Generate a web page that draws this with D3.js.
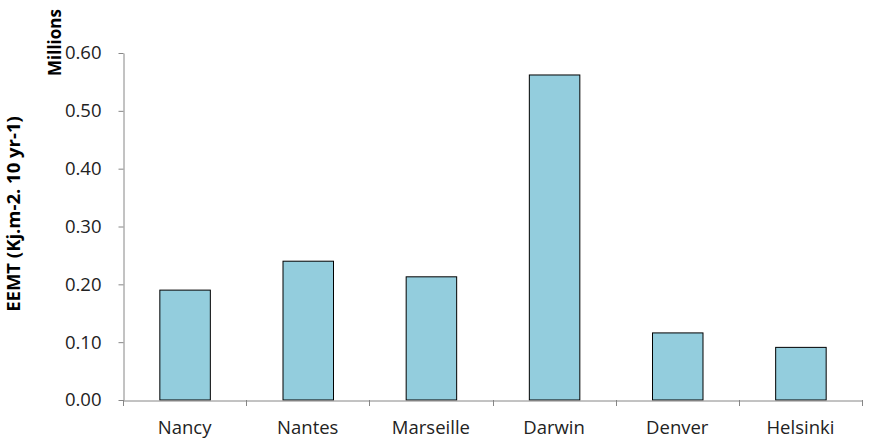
<!DOCTYPE html>
<html><head><meta charset="utf-8">
<script src="https://cdn.jsdelivr.net/npm/d3@7"></script>
<style>body{margin:0;background:#fff;} text{font-family:"Open Sans","Liberation Sans",sans-serif;}</style>
</head><body>
<svg id="c" width="873" height="439"></svg>
<script>
const categories = ["Nancy","Nantes","Marseille","Darwin","Denver","Helsinki"];
const values = [0.190, 0.240, 0.213, 0.562, 0.116, 0.091];
const yTicks = [0,0.1,0.2,0.3,0.4,0.5,0.6];
const yTitle = "EEMT (Kj.m-2. 10 yr-1)";
const unitLabel = "Millions";

const svg = d3.select("#c");
const m = {l:123, r:11, t:53, b:39};
const W = 873, H = 439;
const x = d3.scaleBand().domain(categories).range([m.l, W-m.r]).paddingInner(0.59).paddingOuter(0.295);
const xb = d3.scaleBand().domain(categories).range([m.l, W-m.r]);
const y = d3.scaleLinear().domain([0,0.6]).range([H-m.b, m.t]);
const axisColor = "#868686";
const ff = "'Open Sans','Liberation Sans',sans-serif";

// bars
svg.selectAll("rect.bar").data(values).enter().append("rect")
  .attr("class","bar")
  .attr("x",(d,i)=>x(categories[i])+0.5)
  .attr("y",d=>y(d))
  .attr("width",x.bandwidth())
  .attr("height",d=>y(0)-y(d))
  .attr("fill","#93CDDD").attr("stroke","#000").attr("stroke-width",1);

// y axis
const ya = svg.append("g").attr("transform",`translate(${m.l+0.5},0)`)
  .call(d3.axisLeft(y).tickValues(yTicks).tickFormat(d3.format(".2f")).tickSize(5).tickSizeOuter(0));
ya.select(".domain").attr("stroke",axisColor);
ya.selectAll(".tick line").attr("stroke",axisColor);
ya.selectAll(".tick text").attr("font-size",18.5).attr("fill","#222").attr("x",-22)
  .attr("font-family",ff);

// x axis
const xa = svg.append("g").attr("transform",`translate(0,${y(0)+0.5})`)
  .call(d3.axisBottom(xb).tickSize(0).tickSizeOuter(0));
xa.select(".domain").attr("stroke",axisColor);
xa.selectAll(".tick text").attr("font-size",18.5).attr("fill","#222").attr("dy",0).attr("y",33)
  .attr("font-family",ff);
// category separator ticks
const seps = categories.map(c=>xb(c)).concat([xb(categories[categories.length-1])+xb.bandwidth()]);
svg.append("g").selectAll("line").data(seps).enter().append("line")
  .attr("x1",d=>Math.round(d)+0.5).attr("x2",d=>Math.round(d)+0.5)
  .attr("y1",y(0)).attr("y2",y(0)+6).attr("stroke",axisColor);

// titles
svg.append("text").attr("transform","translate(61,76) rotate(-90)")
  .attr("font-size",17).attr("font-weight","bold").attr("fill","#000").text(unitLabel);
svg.append("text").attr("transform","translate(20,214) rotate(-90)")
  .attr("text-anchor","middle").attr("font-size",18.5).attr("font-weight","bold").attr("fill","#000").text(yTitle);
</script>
</body></html>
